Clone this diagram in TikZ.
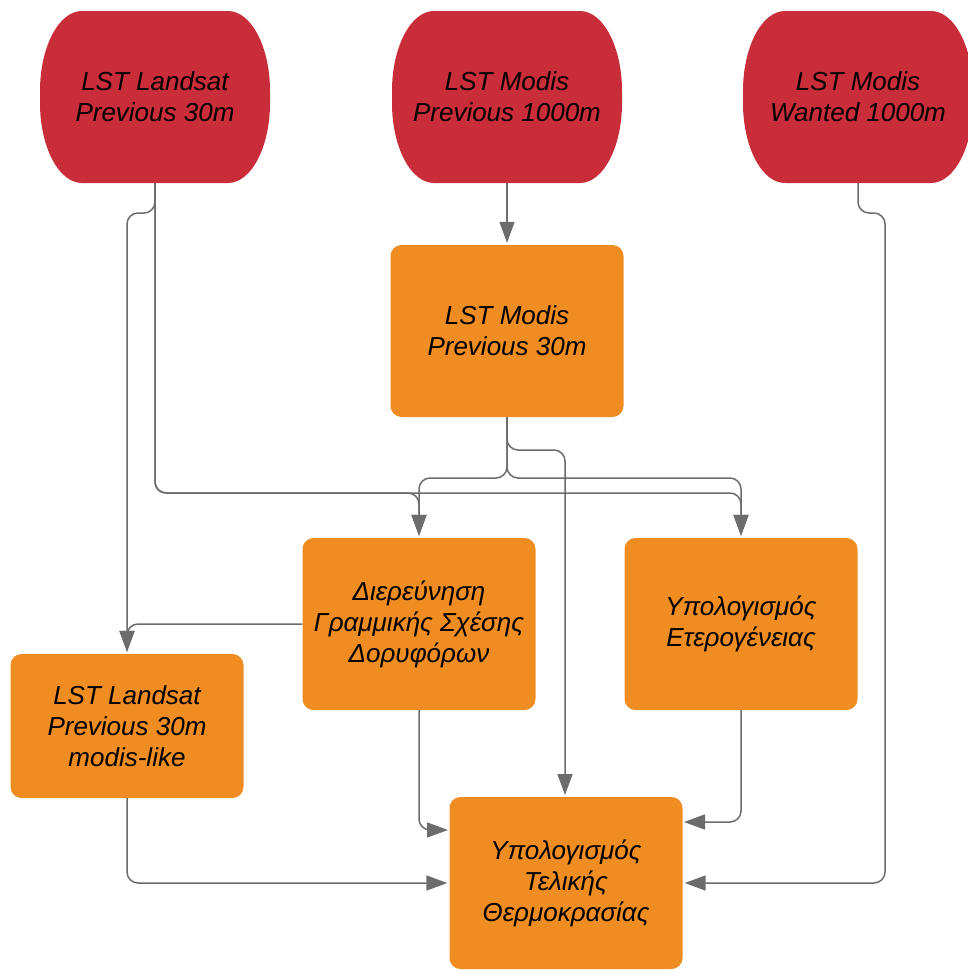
\documentclass[tikz,border=0pt]{standalone}
\usepackage{fontspec}
\setmainfont{Liberation Sans}
\usetikzlibrary{arrows.meta}
\definecolor{redc}{RGB}{201,45,57}
\definecolor{orangec}{RGB}{239,141,34}
\definecolor{linec}{RGB}{108,108,108}
\newcommand\redshape[2]{\fill[redc] (#1-73,#2-86) -- (#1+73,#2-86) arc[start angle=-90,end angle=0,x radius=42,y radius=80] -- (#1+115,#2+6) arc[start angle=0,end angle=90,x radius=42,y radius=80] -- (#1-73,#2+86) arc[start angle=90,end angle=180,x radius=42,y radius=80] -- (#1-115,#2-6) arc[start angle=180,end angle=270,x radius=42,y radius=80] -- cycle;}
\begin{document}
\begin{tikzpicture}[x=1pt,y=-1pt,
  txt/.style={align=center,font=\fontsize{26}{31}\selectfont\itshape,text=black,inner sep=0pt},
  redbox/.style={txt,minimum width=230pt,minimum height=172pt},
  orbox/.style={txt,fill=orangec,rounded corners=11pt,minimum width=233pt,minimum height=172pt},
  conn/.style={draw=linec,line width=1.5pt,rounded corners=11pt},
  arr/.style={conn,-{Triangle[length=21pt,width=15pt]},shorten >=2pt}]
\useasboundingbox (0,0) rectangle (968,970);
\clip (0,0) rectangle (968,970);
% red terminators
\redshape{155}{97}
\redshape{507}{97}
\redshape{858}{97}
\node[redbox] (r1) at (155,97) {LST Landsat\\Previous 30m};
\node[redbox] (r2) at (507,97) {LST Modis\\Previous 1000m};
\node[redbox] (r3) at (858,97) {LST Modis\\Wanted 1000m};
% orange boxes
\node[orbox] (m30) at (507,331) {LST Modis\\Previous 30m};
\node[orbox] (dg) at (419,624) {Διερεύνηση\\Γραμμικής Σχέσης\\Δορυφόρων};
\node[orbox] (het) at (741,624) {Υπολογισμός\\Ετερογένειας};
\node[orbox,minimum height=144pt] (lm) at (127,726) {LST Landsat\\Previous 30m\\modis-like};
\node[orbox] (tf) at (566,883) {Υπολογισμός\\Τελικής\\Θερμοκρασίας};
% elbow coordinates
\coordinate (a1) at (155,493);
\coordinate (a2) at (419,493);
\coordinate (a3) at (741,493);
\coordinate (b1) at (155,213);
\coordinate (b2) at (127,213);
\coordinate (c1) at (127,624);
\coordinate (d1) at (507,478);
\coordinate (d2) at (419,478);
\coordinate (d3) at (741,478);
\coordinate (e1) at (507,450);
\coordinate (e2) at (565,450);
\coordinate (e3) at (565,797);
\coordinate (f1) at (419,830);
\coordinate (f2) at (450,830);
\coordinate (g1) at (741,822);
\coordinate (g2) at (682,822);
\coordinate (h1) at (127,883);
\coordinate (i1) at (858,213);
\coordinate (i2) at (885,213);
\coordinate (i3) at (885,883);
% connectors
\draw[arr] (r2.south) -- (m30.north);
\draw[arr] (r1.south) -- (a1) -- (a2) -- (dg.north);
\draw[arr] (r1.south) -- (a1) -- (a3) -- (het.north);
\draw[arr] (r1.south) -- (b1) -- (b2) -- (lm.north);
\draw[arr] (dg.west) -- (c1) -- (lm.north);
\draw[arr] (m30.south) -- (d1) -- (d2) -- (dg.north);
\draw[arr] (m30.south) -- (d1) -- (d3) -- (het.north);
\draw[arr] (m30.south) -- (e1) -- (e2) -- (e3);
\draw[arr] (dg.south) -- (f1) -- (f2);
\draw[arr] (het.south) -- (g1) -- (g2);
\draw[arr] (lm.south) -- (h1) -- (tf.west);
\draw[arr] (r3.south) -- (i1) -- (i2) -- (i3) -- (tf.east);
\end{tikzpicture}
\end{document}
